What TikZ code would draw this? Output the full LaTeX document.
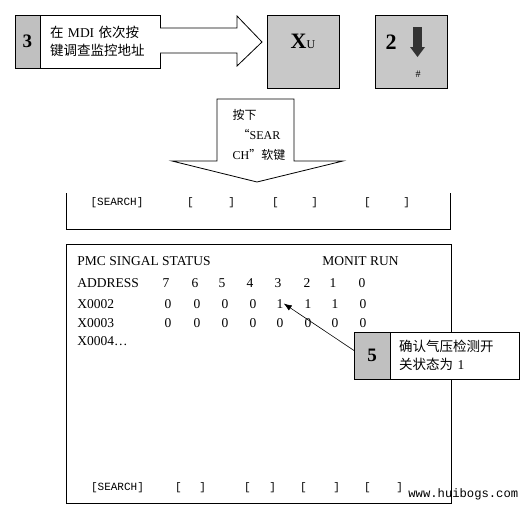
\documentclass[tikz,border=0pt]{standalone}
\usepackage{fontspec}
\setmainfont{Liberation Serif}
\newfontfamily\cjk{Noto Sans CJK SC}
\newfontfamily\webmono{Liberation Mono}
\usetikzlibrary{arrows.meta,calc,positioning}
\definecolor{cellgrey}{RGB}{192,192,192}
\definecolor{keygrey}{RGB}{200,200,200}

\begin{document}
\begin{tikzpicture}[x=1pt, y=-1pt, line width=0.8pt, line join=miter,
  cell/.style={draw, inner sep=0pt, outer sep=0pt},
  numcell/.style={cell, fill=cellgrey, font=\fontsize{19}{19}\selectfont\bfseries},
  notecell/.style={cell, fill=white, align=left, font=\fontsize{13.5}{18.5}\selectfont},
  keybox/.style={cell, fill=keygrey, minimum width=72pt, minimum height=73pt},
  scr/.style={anchor=base, inner sep=0pt, font=\fontsize{13.5}{16}\selectfont},
  soft/.style={inner sep=0pt, font=\webmono\fontsize{11}{12}\selectfont}]

  \useasboundingbox (0,0) rectangle (528,509);

  % Step 3: keys typed on the MDI.
  \node[numcell, minimum width=25pt, minimum height=53pt] (num3) at (27.5,41.5) {3};
  \node[notecell, minimum height=53pt, text width=100pt, inner xsep=10pt, right=0pt of num3] (note3)
    {{\cjk 在} MDI {\cjk 依次按}\\{\cjk 键调查监控地址}};

  % Hollow arrow over to the keys.
  \draw[fill=white] (160,28) -- (237,28) -- (237,16) -- (262,42) -- (237,66) -- (237,53) -- (160,53);

  % The two keys.
  \node[keybox] (keyx) at (303,51.5) {};
  \node[inner sep=0pt] (keyxtext) at (303,41) {{\fontsize{22}{22}\selectfont\bfseries X}{\fontsize{12}{12}\selectfont U}};
  \node[keybox] (key2) at (411,51.5) {};
  \node[inner sep=0pt, font=\fontsize{22}{22}\selectfont\bfseries] (key2num) at (391,42) {2};
  \fill[black!80] (413,27) rectangle (422,48);
  \fill[black!80] (410,47) -- (425,47) -- (417.5,57) -- cycle;
  \node[inner sep=0pt, font=\fontsize{10}{10}\selectfont] (key2hash) at (418,74) {\#};

  % Hollow arrow down: the soft key.
  \draw[fill=white] (217,99) -- (294,99) -- (294,161) -- (343,161) -- (257,182) -- (172,161) -- (217,161) -- cycle;
  \node[align=left, inner sep=0pt, font=\fontsize{12}{20}\selectfont] (presstext) at (259,135)
    {{\cjk 按下}\\\hspace{5pt}{\cjk “}SEAR\\CH{\cjk ”软键}};

  % Soft keys left over from the screen before.
  \draw (66,193) -- (66,229) -- (450,229) -- (450,193);
  \node[soft] (search1) at (117,203) {[SEARCH]};
  \node[soft] (softa1) at (211,203) {\makebox[48pt]{[\hfill]}};
  \node[soft] (softb1) at (295,203) {\makebox[46pt]{[\hfill]}};
  \node[soft] (softc1) at (387,203) {\makebox[46pt]{[\hfill]}};

  % PMC signal status screen.
  \draw (66,244) rectangle (451,503);
  \node[scr, anchor=base west] (title) at (77,265) {PMC SINGAL STATUS};
  \node[scr, anchor=base west] (monit) at (322,265) {MONIT RUN};
  \node[scr, anchor=base west] (addr) at (77,287) {ADDRESS};
  \node[scr, anchor=base west] (row2) at (77,308) {X0002};
  \node[scr, anchor=base west] (row3) at (77,327) {X0003};
  \node[scr, anchor=base west] (row4) at (77,345) {X0004\ldots};
  \foreach \x/\b [count=\i] in {166/7,195/6,222/5,250/4,278/3,307/2,333/1,362/0}
    \node[scr] (bit-\i) at (\x,287) {\b};
  \foreach \x/\v [count=\i] in {168/0,197/0,225/0,253/0,280/1,308/1,335/1,363/0}
    \node[scr] (xa-\i) at (\x,308) {\v};
  \foreach \x [count=\i] in {168,197,225,253,280,308,335,363}
    \node[scr] (xb-\i) at (\x,327) {0};

  % Step 5: the pressure switch bit.
  \node[numcell, minimum width=36pt, minimum height=47pt] (num5) at (372,355.5) {5};
  \node[notecell, minimum height=47pt, text width=111pt, inner xsep=9pt, right=0pt of num5] (note5)
    {{\cjk 确认气压检测开}\\{\cjk 关状态为} 1};
  \draw[line width=0.6pt, -{Latex[length=8pt,width=6pt]}] ([yshift=5pt]num5.west) -- (xa-5.east);

  % Soft keys on this screen.
  \node[soft] (search2) at (117.5,488) {[SEARCH]};
  \node[soft] (softa2) at (190.5,488) {\makebox[31pt]{[\hfill]}};
  \node[soft] (softb2) at (260,488) {\makebox[32pt]{[\hfill]}};
  \node[soft] (softc2) at (320,488) {\makebox[40pt]{[\hfill]}};
  \node[soft] (softd2) at (383.5,488) {\makebox[39pt]{[\hfill]}};
  \node[inner sep=0pt, anchor=west, font=\webmono\fontsize{12.2}{14}\selectfont] (site) at (408,494) {www.huibogs.com};
\end{tikzpicture}
\end{document}
